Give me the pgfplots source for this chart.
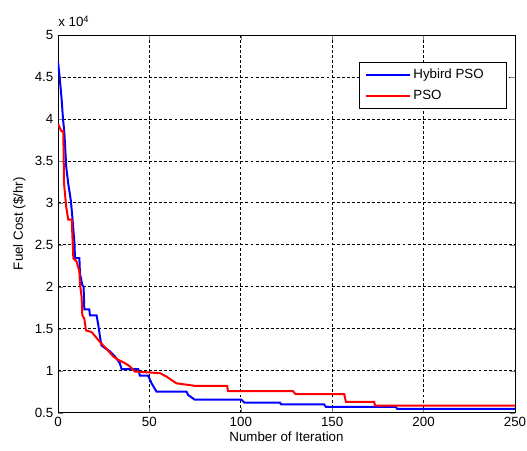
\documentclass[border=0pt]{standalone}
\usepackage{fontspec}
\setmainfont{Liberation Sans}
\usepackage{pgfplots}
\pgfplotsset{compat=1.18}

\begin{document}
\begin{tikzpicture}
\begin{axis}[
  name=ax,
  scale only axis,
  width=342.75pt, height=283.3pt,
  xmin=0, xmax=250, ymin=0.5, ymax=5,
  xtick={0,50,...,250},
  ytick={0.5,1,...,5},
  scaled y ticks=false,
  /pgf/number format/assume math mode=true,
  tick align=inside,
  tick pos=both,
  major tick length=3.75pt,
  axis line style={line width=0.6pt},
  grid=major,
  grid style={black, line width=0.5pt, dash pattern=on 2.2pt off 1.6pt},
  xlabel={Number of Iteration},
  ylabel={Fuel Cost (\$/hr)},
  xlabel style={yshift=3pt},
  ylabel style={yshift=0pt},
  legend style={
    at={(0.982,0.929)}, anchor=north east,
    draw=black, line width=0.5pt, fill=white,
    inner xsep=4pt, inner ysep=3pt,
    row sep=3.5pt,
    cells={anchor=west},
  },
  legend image code/.code={\draw[#1] (0pt,0pt) -- (33pt,0pt);},
  every axis plot/.append style={line width=1.5pt},
]
% Hybird PSO
\addplot[blue] coordinates {
  (0,4.68) (0.8,4.52) (2,4.23) (2.7,4.01) (3.5,3.83) (4.5,3.43)
  (5.6,3.23) (7,3.03) (7.7,2.87) (9,2.52) (9.3,2.34) (11.7,2.34)
  (12,2.16) (13.3,2.02) (14,2.0) (14.4,1.73) (17.1,1.73) (17.5,1.66)
  (21.1,1.66) (22,1.55) (23,1.40) (23.8,1.30) (25.7,1.27) (28.4,1.23)
  (31.1,1.17) (33.8,1.09) (34.8,1.02) (43.9,1.02) (44.8,0.94) (49.3,0.94)
  (51.2,0.85) (53.9,0.75) (70.3,0.75) (71.2,0.71) (74.8,0.655) (100.3,0.655)
  (102,0.62) (121.4,0.62) (122,0.60) (145.5,0.60) (146.5,0.57) (184.7,0.57)
  (185.5,0.545) (250,0.545)
};
% PSO
\addplot[red] coordinates {
  (0,3.94) (2,3.85) (2.9,3.85) (3.3,3.23) (4.5,2.95) (5.6,2.80)
  (7.5,2.80) (8.4,2.34) (10.2,2.30) (11.7,2.18) (12,2.04) (12.9,1.88)
  (13.3,1.66) (14.4,1.62) (15.3,1.48) (18.4,1.46) (20,1.42) (23,1.34)
  (25.7,1.28) (30.2,1.17) (32.9,1.13) (36.6,1.09) (39.4,1.05) (42,0.99)
  (49.3,0.98) (55.8,0.97) (59.4,0.93) (62,0.89) (64.8,0.85) (74.8,0.82)
  (92.5,0.82) (93,0.757) (128.5,0.757) (130,0.72) (156.6,0.72) (157.5,0.63)
  (172.9,0.63) (173.5,0.585) (250,0.585)
};
\legend{Hybird PSO\hspace*{11pt}, PSO}
\end{axis}
\node[anchor=base west, inner sep=0pt] at ([yshift=6pt]ax.north west) {x 10\textsuperscript{4}};
\node[anchor=south, inner sep=0pt] at ([xshift=157.5pt,yshift=309pt]ax.south west) {(a)};
\pgfresetboundingbox
\path[use as bounding box] ([xshift=-43.5pt,yshift=-28pt]ax.south west) rectangle ++(395.25pt,337.5pt);
\end{tikzpicture}
\end{document}
